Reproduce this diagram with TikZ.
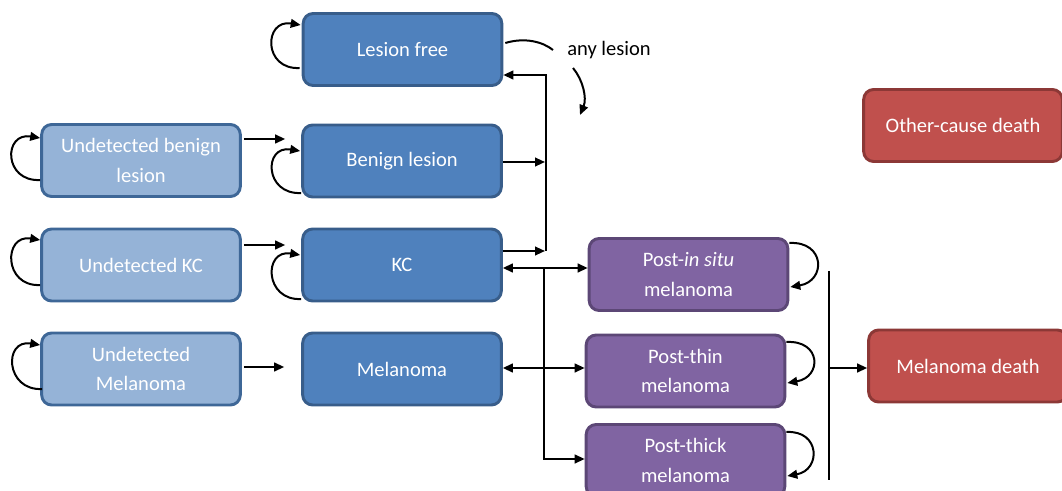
\documentclass[tikz,border=0pt]{standalone}
\usepackage{fontspec}
\setmainfont{Carlito}
\usetikzlibrary{calc,arrows.meta}
\definecolor{dblue}{HTML}{4F81BD}
\definecolor{dbluedraw}{HTML}{385D8A}
\definecolor{lblue}{HTML}{95B3D7}
\definecolor{lbluedraw}{HTML}{3E6797}
\definecolor{purp}{HTML}{8064A2}
\definecolor{purpdraw}{HTML}{5C4776}
\definecolor{redf}{HTML}{C0504D}
\definecolor{reddraw}{HTML}{8C3836}
\tikzset{
  boxbase/.style={draw, line width=2.2pt, rounded corners=7.5pt, minimum width=149pt,
    minimum height=54pt, text=white, align=center, inner sep=2pt,
    font=\fontsize{15.4}{22}\selectfont},
  dbox/.style={boxbase, fill=dblue, draw=dbluedraw},
  lbox/.style={boxbase, fill=lblue, draw=lbluedraw},
  pbox/.style={boxbase, fill=purp, draw=purpdraw},
  rbox/.style={boxbase, fill=redf, draw=reddraw},
  conn/.style={line width=1.5pt, black},
  arr/.style={conn, -{Triangle[length=7.5pt,width=6.5pt]}},
  dblarr/.style={conn, {Triangle[length=7.5pt,width=6.5pt]}-{Triangle[length=7.5pt,width=6.5pt]}},
}
\begin{document}
\begin{tikzpicture}[x=0.75pt,y=-0.75pt]
\useasboundingbox (0,0) rectangle (1062,491);
\clip (0,0) rectangle (1062,491);
% nodes
\node[dbox] (LF) at (402.5,49.5) {Lesion free};
\node[lbox] (UB) at (141,160.5) {Undetected benign\\lesion};
\node[dbox] (BL) at (402,161) {Benign lesion};
\node[lbox] (UK) at (141,265) {Undetected KC};
\node[dbox] (KC) at (402,265) {KC};
\node[lbox] (UM) at (141,369) {Undetected\\Melanoma};
\node[dbox] (M) at (402,369) {Melanoma};
\node[pbox] (PIS) at (688.5,274.5) {Post-\textit{in situ}\\melanoma};
\node[pbox] (PTN) at (685.5,371) {Post-thin\\melanoma};
\node[pbox] (PTK) at (685.5,460.5) {Post-thick\\melanoma};
\node[rbox] (OCD) at (963,125.5) {Other-cause death};
\node[rbox] (MD) at (968,366) {Melanoma death};
\node[font=\fontsize{15.4}{18}\selectfont, inner sep=0pt] (AL) at (609,50) {any lesion};
% coordinates
\coordinate (jt) at (546,75);
\coordinate (jb) at (546,251);
\coordinate (k1) at (544,268);
\coordinate (k2) at (544,368);
\coordinate (k3) at (544,459);
\coordinate (r1) at (829,271);
\coordinate (r2) at (829,480);
\coordinate (rm) at (829,368);
\coordinate (al1) at (553,50);
\coordinate (al2) at (573,68);
\coordinate (al3) at (580,115);
% left self loops
\draw[arr] ($(UB.west)+(0,19.5)$) .. controls +(-37,2) and +(-37,-6) .. ($(UB.west)+(0,-22.5)$);
\draw[arr] ($(UK.west)+(0,20)$) .. controls +(-37,2) and +(-37,-6) .. ($(UK.west)+(0,-25)$);
\draw[arr] ($(UM.west)+(2,20)$) .. controls +(-37,2) and +(-37,-6) .. ($(UM.west)+(0,-24)$);
\draw[arr] ($(LF.west)+(-2,18.5)$) .. controls +(-37,2) and +(-37,-6) .. ($(LF.west)+(-1,-24.5)$);
\draw[arr] ($(BL.west)+(0,32)$) .. controls +(-37,2) and +(-37,-6) .. ($(BL.west)+(-1,-10)$);
\draw[arr] ($(KC.west)+(0,34)$) .. controls +(-37,2) and +(-37,-6) .. ($(KC.west)+(-1,-10)$);
% right self loops
\draw[arr] ($(PIS.east)+(0,-31.5)$) .. controls +(36,-2) and +(36,-6) .. ($(PIS.east)+(1,12.5)$);
\draw[arr] ($(PTN.east)+(0,-29)$) .. controls +(35,-2) and +(35,-6) .. ($(PTN.east)+(1,12)$);
\draw[arr] ($(PTK.east)+(0,-28.5)$) .. controls +(34,-2) and +(34,-6) .. ($(PTK.east)+(1,15.5)$);
% undetected -> detected
\draw[arr] ($(UB.east)+(2,-21.5)$) -- ($(BL.west)+(-16,-22)$);
\draw[arr] ($(UK.east)+(2,-20)$) -- ($(KC.west)+(-16,-20)$);
\draw[arr] ($(UM.east)+(2,-2)$) -- ($(M.west)+(-17,-2)$);
% junction to lesion free
\draw[conn] (jb) -- (jt);
\draw[arr] ([xshift=0.75pt]jt) -- (LF.east |- jt);
\draw[arr] (BL.east) ++(0,1) -- ($(jt |- BL.east)+(-1,1)$);
\draw[arr] ($(KC.east)+(0,-14)$) -- ($(jb)+(-1,0)$);
% any lesion arcs
\draw[conn] ($(LF.east)+(2,-6.5)$) .. controls +(20,-6) and +(-10,-8) .. (al1);
\draw[arr] (al2) .. controls (583,80) and (587,98) .. (al3);
% junction to post states
\draw[conn] (k1) -- (k3);
\draw[dblarr] (KC.east |- k1) -- (PIS.west |- k1);
\draw[dblarr] (M.east |- k2) -- (PTN.west |- k2);
\draw[arr] ([xshift=-0.75pt]k3) -- (PTK.west |- k3);
% to melanoma death
\draw[conn] (r1) -- (r2);
\draw[arr] ([xshift=-0.75pt]rm) -- (MD.west |- rm);
\end{tikzpicture}
\end{document}
